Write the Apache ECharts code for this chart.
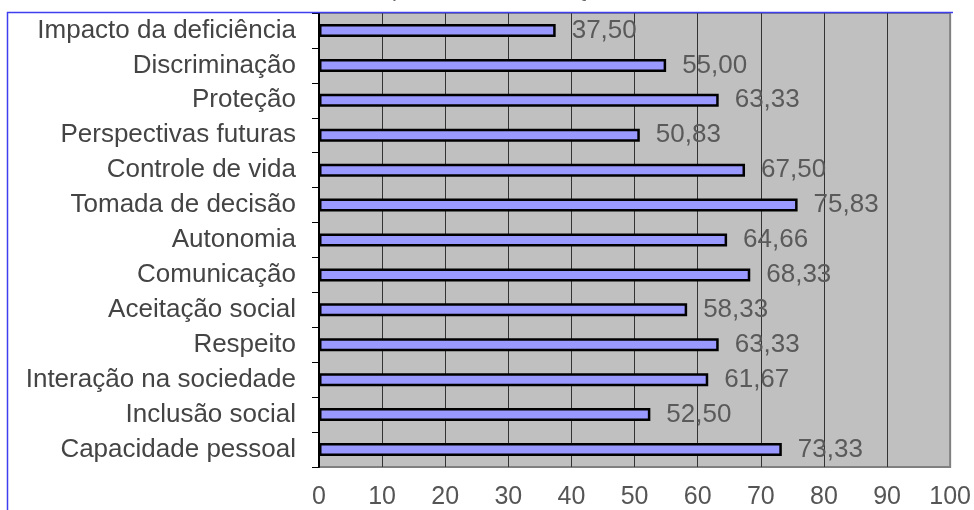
<!DOCTYPE html>
<html>
<head>
<meta charset="utf-8">
<script src="https://cdn.jsdelivr.net/npm/echarts@6/dist/echarts.min.js"></script>
<style>
  html, body { margin: 0; padding: 0; background: #ffffff; }
  #chart { width: 974px; height: 510px; }
</style>
</head>
<body>
<div id="chart"></div>
<script>
// Facets of the WHOQOL-DIS module, listed top to bottom
const facets = [
  'Impacto da deficiência',
  'Discriminação',
  'Proteção',
  'Perspectivas futuras',
  'Controle de vida',
  'Tomada de decisão',
  'Autonomia',
  'Comunicação',
  'Aceitação social',
  'Respeito',
  'Interação na sociedade',
  'Inclusão social',
  'Capacidade pessoal'
];

// Mean score of each facet (0–100)
const scores = [37.50, 55.00, 63.33, 50.83, 67.50, 75.83, 64.66, 68.33, 58.33, 63.33, 61.67, 52.50, 73.33];

// Value axis range and step
const axisMin = 0;
const axisMax = 100;
const axisStep = 10;

const titleText = 'Gráfico 3 - Escores das facetas obtidos pelo módulo WHOQOL-DIS';

const FONT = "'Liberation Sans', Arial, sans-serif";

const chart = echarts.init(document.getElementById('chart'), null, { renderer: 'canvas' });

chart.setOption({
  animation: false,
  backgroundColor: '#ffffff',
  textStyle: { fontFamily: FONT },
  grid: {
    left: 319,
    right: 21,
    top: 13,
    bottom: 41,
    show: true,
    backgroundColor: '#C0C0C0',
    borderColor: '#808080',
    borderWidth: 2,
    containLabel: false
  },
  xAxis: {
    type: 'value',
    min: axisMin,
    max: axisMax,
    interval: axisStep,
    axisLine: { show: false },
    axisTick: { show: false },
    axisLabel: {
      color: '#555555',
      fontSize: 25,
      fontFamily: FONT,
      margin: 18
    },
    splitLine: {
      show: true,
      showMinLine: false,
      showMaxLine: false,
      lineStyle: { color: '#333333', width: 1 }
    }
  },
  yAxis: {
    type: 'category',
    data: facets,
    inverse: true,
    axisLine: { show: true, lineStyle: { color: '#000000', width: 2 } },
    axisTick: { show: true, length: 7, lineStyle: { color: '#000000', width: 1 } },
    axisLabel: {
      color: '#444444',
      fontSize: 26,
      fontFamily: FONT,
      margin: 23
    },
    splitLine: { show: false }
  },
  series: [{
    type: 'bar',
    data: scores,
    barWidth: 13,
    itemStyle: {
      color: '#9999FF',
      borderColor: '#000000',
      borderWidth: 2.5
    },
    label: {
      show: true,
      position: 'right',
      distance: 16,
      color: '#5a5a5a',
      fontSize: 26,
      fontFamily: FONT,
      formatter: p => p.value.toFixed(2).replace('.', ',')
    }
  }],
  graphic: [
    {
      type: 'text',
      left: 2,
      top: -21,
      silent: true,
      style: {
        text: titleText,
        font: '22px ' + FONT,
        fill: '#666666'
      }
    },
    {
      type: 'line',
      silent: true,
      z: 100,
      shape: { x1: 7, y1: 12.5, x2: 953, y2: 12.5 },
      style: { stroke: '#3f3ff0', lineWidth: 1.5 }
    },
    {
      type: 'line',
      silent: true,
      z: 100,
      shape: { x1: 7.5, y1: 12, x2: 7.5, y2: 510 },
      style: { stroke: '#3f3ff0', lineWidth: 1.5 }
    }
  ]
});
</script>
</body>
</html>
